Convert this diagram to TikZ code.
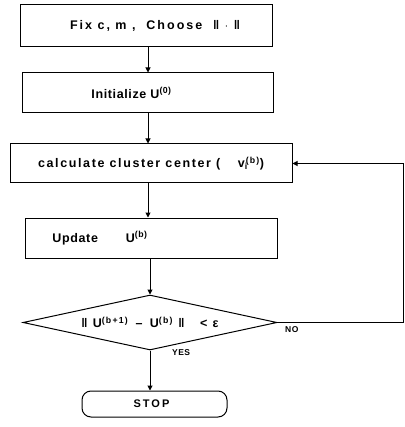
\documentclass[tikz,border=0pt]{standalone}
\usepackage{fontspec}
\setsansfont{Liberation Sans}[LetterSpace=5]
\usetikzlibrary{arrows.meta,shapes.geometric}

\tikzset{
    stepbox/.style={draw, line width=1pt, inner sep=0pt,
        font=\sffamily\bfseries\fontsize{12.5}{14}\selectfont},
    decide/.style={stepbox, diamond, aspect=4.6},
    endbox/.style={stepbox, rounded corners=9pt,
        font=\sffamily\bfseries\fontsize{11}{12}\selectfont\addfontfeature{LetterSpace=18}},
    flow/.style={line width=1pt, -{Triangle[length=5pt,width=5pt]}},
    answer/.style={font=\sffamily\bfseries\fontsize{8.5}{9}\selectfont, inner sep=0pt}
}

\begin{document}
\begin{tikzpicture}[x=1pt, y=-1pt]
            \useasboundingbox (0,0) rectangle (404,427);

            \node[stepbox, minimum width=252pt, minimum height=42pt] (fix) at (146,26)
                {\hspace*{18pt}\addfontfeature{LetterSpace=16}Fix c, m , \ Choose \ ‖ $\cdot$ ‖};
            \node[stepbox, minimum width=251pt, minimum height=40pt] (init) at (147.5,93)
                {Initialize U\textsuperscript{(0)}\hspace*{32pt}};
            \node[stepbox, minimum width=282pt, minimum height=39pt] (center) at (151,163.5)
                {\addfontfeature{LetterSpace=13}calculate cluster center ( \quad v\textsubscript{i}\hspace{-2pt}\textsuperscript{(b)})};
            \node[stepbox, minimum width=252pt, minimum height=40pt] (update) at (151,238)
                {Update\hspace{28pt}U\textsuperscript{(b)}\hspace*{102pt}};
            \node[decide, minimum width=254pt, minimum height=55pt] (test) at (150,322.5)
                {\addfontfeature{LetterSpace=14}‖ U\textsuperscript{(b+1)} \,--\, U\textsuperscript{(b)} ‖ \ \ < ε};
            \node[endbox, minimum width=145pt, minimum height=26pt] (stop) at (154.5,404)
                {STOP\hspace*{6pt}};

            \coordinate (back) at (403,322.5);

            \draw[flow] (fix.south -| 148,0) -- (init.north -| 148,0);
            \draw[flow] (init.south -| 148,0) -- (center.north -| 148,0);
            \draw[flow] (center.south -| 148,0) -- (update.north -| 148,0);
            \draw[flow] (update.south -| 150,0) -- (test.north);
            \draw[flow] (test.south) -- (test.south |- stop.north);
            \draw[flow] (test.east) -- (back) |- (center.east);

            \node[answer, anchor=north west] (no) at (285,326) {NO};
            \node[answer, anchor=north west] (yes) at (172,349) {YES};
        \end{tikzpicture}
\end{document}
